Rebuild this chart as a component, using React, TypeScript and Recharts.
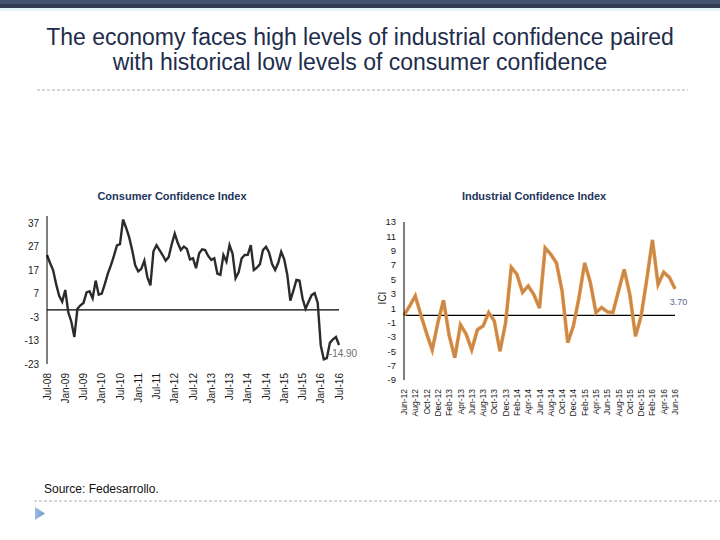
import { LineChart, Line, XAxis, YAxis, ReferenceLine, LabelList } from "recharts";

const FONT = "'Liberation Sans', Arial, sans-serif";

const MONTH_NAMES = ["Jan", "Feb", "Mar", "Apr", "May", "Jun", "Jul", "Aug", "Sep", "Oct", "Nov", "Dec"];

// builds "Jul-08" style labels, one per month
const monthLabels = (startMonth: number, startYear: number, count: number) => {
  const out: string[] = [];
  for (let i = 0; i < count; i++) {
    const m = (startMonth + i) % 12;
    const y = startYear + Math.floor((startMonth + i) / 12);
    out.push(`${MONTH_NAMES[m]}-${String(y).padStart(2, "0")}`);
  }
  return out;
};

// Consumer Confidence Index, Jul-08 .. Jul-16
const consumerMonths = monthLabels(6, 8, 97);
const consumerValues = [
  23.4, 20, 17, 11, 6, 3.5, 8.5, -1, -5, -11.5,
  0.5, 2, 3, 7.5, 8, 5, 12.5, 6.5, 7, 11,
  15.5, 19, 23, 27.5, 28, 38.5, 35, 31, 25.5, 19,
  16.4, 17.5, 21, 14, 10.5, 25, 27.6, 25.5, 23.4, 21,
  22.5, 28, 32.5, 28.5, 25.5, 27, 26, 21.5, 22, 17.8,
  24, 25.8, 25.5, 23, 21.3, 22, 15.5, 15, 23.4, 20.6,
  27.6, 24, 13.5, 16, 22, 23.4, 23.5, 27.6, 17, 18,
  19.5, 25.5, 26.9, 24.5, 19.5, 17, 20, 24.8, 21.5, 15,
  4, 8.2, 12.8, 12.5, 5, 0.5, 3.5, 6.3, 7.2, 3,
  -15, -21, -20.5, -14, -12.5, -11.5, -14.9,
];
const consumerTicks = [37, 27, 17, 7, -3, -13, -23];

// Industrial Confidence Index, Jun-12 .. Jun-16
const industrialMonths = monthLabels(5, 12, 49);
const industrialValues = [
  0, 1.3, 2.7, 0, -2.5, -4.8, -1, 2.1, -2.8, -5.9,
  -1.3, -2.6, -4.8, -2, -1.5, 0.4, -0.8, -5, -1, 6.7,
  5.7, 3.2, 4.1, 2.9, 1, 9.4, 8.5, 7.3, 3.4, -3.8,
  -1.5, 2.5, 7.3, 4.6, 0.4, 1.1, 0.5, 0.4, 3.4, 6.4,
  2.9, -2.9, -0.1, 5, 10.5, 4.3, 6, 5.3, 3.7,
];
const industrialTicks = [13, 11, 9, 7, 5, 3, 1, -1, -3, -5, -7, -9];

const consumerData = consumerMonths.map((month, i) => ({ month, cci: consumerValues[i] }));
const industrialData = industrialMonths.map((month, i) => ({ month, ici: industrialValues[i] }));

const RotatedTick = (props: any) => {
  const { x, y, payload, fs } = props;
  return (
    <text
      transform={`translate(${x},${y}) rotate(-90)`}
      textAnchor="end"
      dy={fs * 0.36}
      fontSize={fs}
      fontFamily={FONT}
      fill="#1a1a1a"
    >
      {payload.value}
    </text>
  );
};

const endLabel = (last: number, color: string, fs: number, dx: number, dy: number) => (props: any) => {
  const { x, y, index, value } = props;
  if (index !== last) return null;
  return (
    <text x={x + dx} y={y + dy} textAnchor="middle" fontSize={fs} fontFamily={FONT} fill={color}>
      {Number(value).toFixed(2)}
    </text>
  );
};

export default function App() {
  return (
    <div style={{ position: "absolute", left: 0, top: 0, width: 720, height: 540, background: "#fff", fontFamily: FONT }}>
      <svg width={720} height={540} style={{ position: "absolute", left: 0, top: 0 }}>
        <defs>
          <linearGradient id="navTri" x1="0" y1="0" x2="1" y2="0">
            <stop offset="0%" stopColor="#9cbce0" />
            <stop offset="100%" stopColor="#6b98c8" />
          </linearGradient>
        </defs>
        <rect x={0} y={0} width={720} height={4} fill="#475470" />
        <rect x={0} y={4} width={720} height={4} fill="#323d55" />
        <rect x={0} y={8} width={720} height={3} fill="#e4f5fb" />
        <text x={360} y={45} textAnchor="middle" fontSize={23} fill="#1e2d4c" fontFamily={FONT}>
          The economy faces high levels of industrial confidence paired
        </text>
        <text x={360} y={70} textAnchor="middle" fontSize={23} fill="#1e2d4c" fontFamily={FONT}>
          with historical low levels of consumer confidence
        </text>
        <line x1={37} y1={90} x2={688} y2={90} stroke="#b0b0b0" strokeDasharray="3 2" />
        <text x={172} y={200} textAnchor="middle" fontSize={11} fontWeight="bold" fill="#23355c" fontFamily={FONT}>
          Consumer Confidence Index
        </text>
        <text x={534} y={200} textAnchor="middle" fontSize={11} fontWeight="bold" fill="#23355c" fontFamily={FONT}>
          Industrial Confidence Index
        </text>
        <text x={44} y={493} fontSize={12} fill="#111" fontFamily={FONT}>
          Source: Fedesarrollo.
        </text>
        <line x1={34} y1={501} x2={720} y2={501} stroke="#b0b0b0" strokeDasharray="3 2" />
        <polygon points="35,507 45,513.5 35,520" fill="url(#navTri)" />
        <text
          transform="translate(386,298) rotate(-90)"
          textAnchor="middle"
          fontSize={10}
          fill="#1a1a1a"
          fontFamily={FONT}
        >
          ICI
        </text>
      </svg>

      <div style={{ position: "absolute", left: 0, top: 200 }}>
        <LineChart width={368} height={210} data={consumerData} margin={{ top: 16, right: 29, bottom: 0, left: 0 }}>
          <XAxis
            dataKey="month"
            interval={5}
            axisLine={false}
            tickLine={false}
            tickSize={0}
            tickMargin={9}
            height={46}
            tick={(p: any) => <RotatedTick {...p} fs={10} />}
          />
          <YAxis
            width={47}
            domain={[-23, 40]}
            ticks={consumerTicks}
            interval={0}
            tickLine={false}
            axisLine={{ stroke: "#000", strokeWidth: 1 }}
            tick={{ fontSize: 10, fill: "#1a1a1a", fontFamily: FONT }}
          />
          <ReferenceLine y={0} stroke="#000" strokeWidth={1.3} />
          <Line
            type="linear"
            dataKey="cci"
            stroke="#2b2b2b"
            strokeWidth={2.4}
            dot={false}
            isAnimationActive={false}
          >
            <LabelList dataKey="cci" content={endLabel(consumerValues.length - 1, "#707070", 10, 4, 12.5)} />
          </Line>
        </LineChart>
      </div>

      <div style={{ position: "absolute", left: 360, top: 200 }}>
        <LineChart width={345} height={230} data={industrialData} margin={{ top: 22, right: 30, bottom: 0, left: 0 }}>
          <XAxis
            dataKey="month"
            interval={1}
            axisLine={false}
            tickLine={false}
            tickSize={0}
            tickMargin={9}
            height={50}
            tick={(p: any) => <RotatedTick {...p} fs={8.5} />}
          />
          <YAxis
            width={44}
            domain={[-9, 13]}
            ticks={industrialTicks}
            interval={0}
            tickLine={false}
            axisLine={{ stroke: "#000", strokeWidth: 1 }}
            tick={{ fontSize: 9.5, fill: "#1a1a1a", fontFamily: FONT }}
          />
          <ReferenceLine y={0} stroke="#000" strokeWidth={1.3} />
          <Line
            type="linear"
            dataKey="ici"
            stroke="#f0902e"
            strokeWidth={3.6}
            dot={false}
            isAnimationActive={false}
          />
          <Line
            type="linear"
            dataKey="ici"
            stroke="#b98a5e"
            strokeWidth={1.8}
            dot={false}
            isAnimationActive={false}
          >
            <LabelList dataKey="ici" content={endLabel(industrialValues.length - 1, "#5b6b8c", 9, 3.5, 16)} />
          </Line>
        </LineChart>
      </div>
    </div>
  );
}
